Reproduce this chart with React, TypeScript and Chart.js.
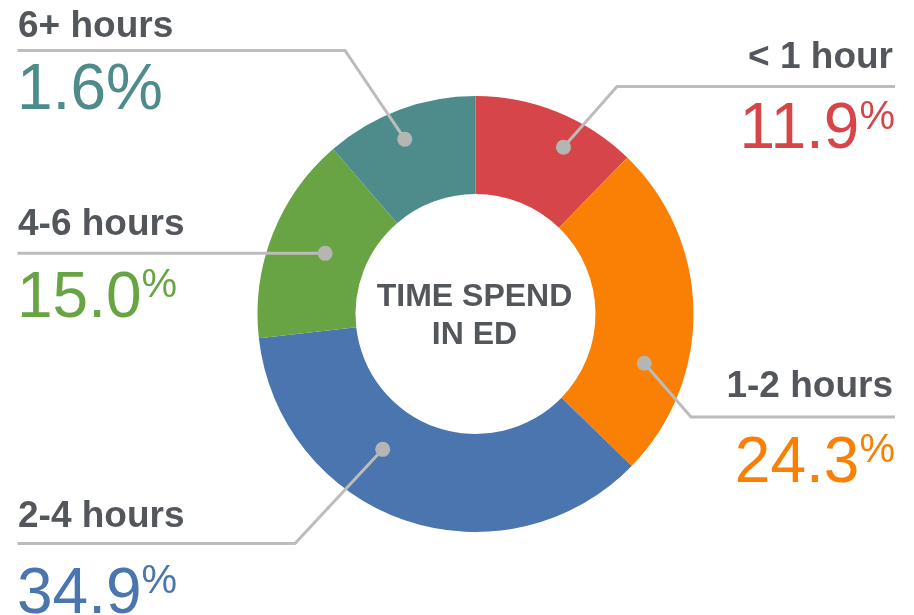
import { useEffect, useRef } from 'react';
import { Chart, registerables } from 'chart.js';

Chart.register(...registerables);

// ---- data ----
const categories = ['< 1 hour', '1-2 hours', '2-4 hours', '4-6 hours', '6+ hours'];
// slice sizes as drawn in the picture
const sliceShares = [11.9, 24.3, 34.9, 15.0, 11.0];
// percentages printed next to each slice
const shownPercents = ['11.9', '24.3', '34.9', '15.0', '1.6'];
const percentIsSuperscript = [true, true, true, true, false];
const sliceColors = ['#d64547', '#f97f05', '#4a75ae', '#68a444', '#4e8c8c'];
const centerTitle = ['TIME SPEND', 'IN ED'];

// ---- callout layout (annotation placement, not data) ----
type Callout = {
  side: 'left' | 'right';
  nameY: number;
  pctY: number;
  lineY: number | null;
  elbowX: number | null;
  along: number;
  depth: number;
};
const calloutLayout: Callout[] = [
  { side: 'right', nameY: 68, pctY: 148, lineY: 86.5, elbowX: 617, along: 0.63, depth: 0.7 },
  { side: 'right', nameY: 397, pctY: 481.5, lineY: 417, elbowX: 691, along: 0.69, depth: 0.57 },
  { side: 'left', nameY: 527, pctY: 612.5, lineY: 543.5, elbowX: 295, along: 0.62, depth: 0.45 },
  { side: 'left', nameY: 235, pctY: 316.5, lineY: null, elbowX: null, along: 0.51, depth: 0.43 },
  { side: 'left', nameY: 37, pctY: 108.5, lineY: 50.5, elbowX: 345, along: 0.46, depth: 0.7 },
];

const FONT = '"Liberation Sans", Arial, sans-serif';
const TEXT_GRAY = '#53575b';
const LINE_GRAY = '#bcbcba';
const DOT_GRAY = '#b5b6b4';
const LEFT_X = 18;
const RIGHT_X = 894;

const calloutPlugin = {
  id: 'callouts',
  afterDraw(chart: any) {
    const ctx: CanvasRenderingContext2D = chart.ctx;
    const meta = chart.getDatasetMeta(0);
    ctx.save();
    let cx = 0;
    let cy = 0;
    meta.data.forEach((arc: any, i: number) => {
      const p = arc.getProps(['x', 'y', 'startAngle', 'endAngle', 'innerRadius', 'outerRadius'], true);
      cx = p.x;
      cy = p.y;
      const L = calloutLayout[i];
      const a = p.startAngle + L.along * (p.endAngle - p.startAngle);
      const r = p.innerRadius + L.depth * (p.outerRadius - p.innerRadius);
      const dx = p.x + Math.cos(a) * r;
      const dy = p.y + Math.sin(a) * r;
      const edge = L.side === 'left' ? LEFT_X - 0.5 : RIGHT_X + 1;

      ctx.strokeStyle = LINE_GRAY;
      ctx.lineWidth = 3;
      ctx.lineJoin = 'miter';
      ctx.lineCap = 'butt';
      ctx.beginPath();
      ctx.moveTo(dx, dy);
      if (L.elbowX != null && L.lineY != null) {
        ctx.lineTo(L.elbowX, L.lineY);
        ctx.lineTo(edge, L.lineY);
      } else {
        ctx.lineTo(edge, dy);
      }
      ctx.stroke();

      ctx.fillStyle = DOT_GRAY;
      ctx.beginPath();
      ctx.arc(dx, dy, 7.5, 0, Math.PI * 2);
      ctx.fill();

      // category name
      ctx.textBaseline = 'alphabetic';
      ctx.font = `bold 37px ${FONT}`;
      ctx.fillStyle = TEXT_GRAY;
      ctx.textAlign = L.side === 'left' ? 'left' : 'right';
      ctx.fillText(categories[i], L.side === 'left' ? LEFT_X : RIGHT_X - 1, L.nameY);

      // percent
      ctx.fillStyle = sliceColors[i];
      ctx.textAlign = 'left';
      const numFont = `64px ${FONT}`;
      const supFont = `40px ${FONT}`;
      const rightEdge = RIGHT_X + 1;
      if (percentIsSuperscript[i]) {
        ctx.font = numFont;
        const numW = ctx.measureText(shownPercents[i]).width;
        ctx.font = supFont;
        const supW = ctx.measureText('%').width;
        const startX = L.side === 'left' ? LEFT_X - 1 : rightEdge - supW - numW;
        ctx.font = numFont;
        ctx.fillText(shownPercents[i], startX, L.pctY);
        ctx.font = supFont;
        ctx.fillText('%', startX + numW, L.pctY - 19.5);
      } else {
        ctx.font = numFont;
        const s = shownPercents[i] + '%';
        const w = ctx.measureText(s).width;
        const startX = L.side === 'left' ? LEFT_X - 1 : rightEdge - w;
        ctx.fillText(s, startX, L.pctY);
      }
    });

    // center title
    ctx.font = `bold 32px ${FONT}`;
    ctx.fillStyle = TEXT_GRAY;
    ctx.textAlign = 'center';
    ctx.textBaseline = 'alphabetic';
    ctx.fillText(centerTitle[0], cx - 1, cy - 8);
    ctx.fillText(centerTitle[1], cx - 1, cy + 30);
    ctx.restore();
  },
};

export default function App() {
  const canvasRef = useRef<HTMLCanvasElement | null>(null);

  useEffect(() => {
    if (!canvasRef.current) return;
    const chart = new Chart(canvasRef.current, {
      type: 'doughnut',
      data: {
        labels: categories,
        datasets: [
          {
            data: sliceShares,
            backgroundColor: sliceColors,
            borderWidth: 0,
            hoverOffset: 0,
          },
        ],
      },
      options: {
        animation: false,
        responsive: false,
        maintainAspectRatio: false,
        radius: 218,
        cutout: 120,
        layout: { padding: { left: 257, right: 220, top: 96, bottom: 83 } },
        plugins: {
          legend: { display: false },
          tooltip: { enabled: false },
        },
        events: [],
      } as any,
      plugins: [calloutPlugin],
    });
    return () => chart.destroy();
  }, []);

  return (
    <div style={{ position: 'absolute', left: 0, top: 0, width: 914, height: 615, background: '#ffffff' }}>
      <canvas ref={canvasRef} width={914} height={615} style={{ display: 'block', width: 914, height: 615 }} />
    </div>
  );
}
